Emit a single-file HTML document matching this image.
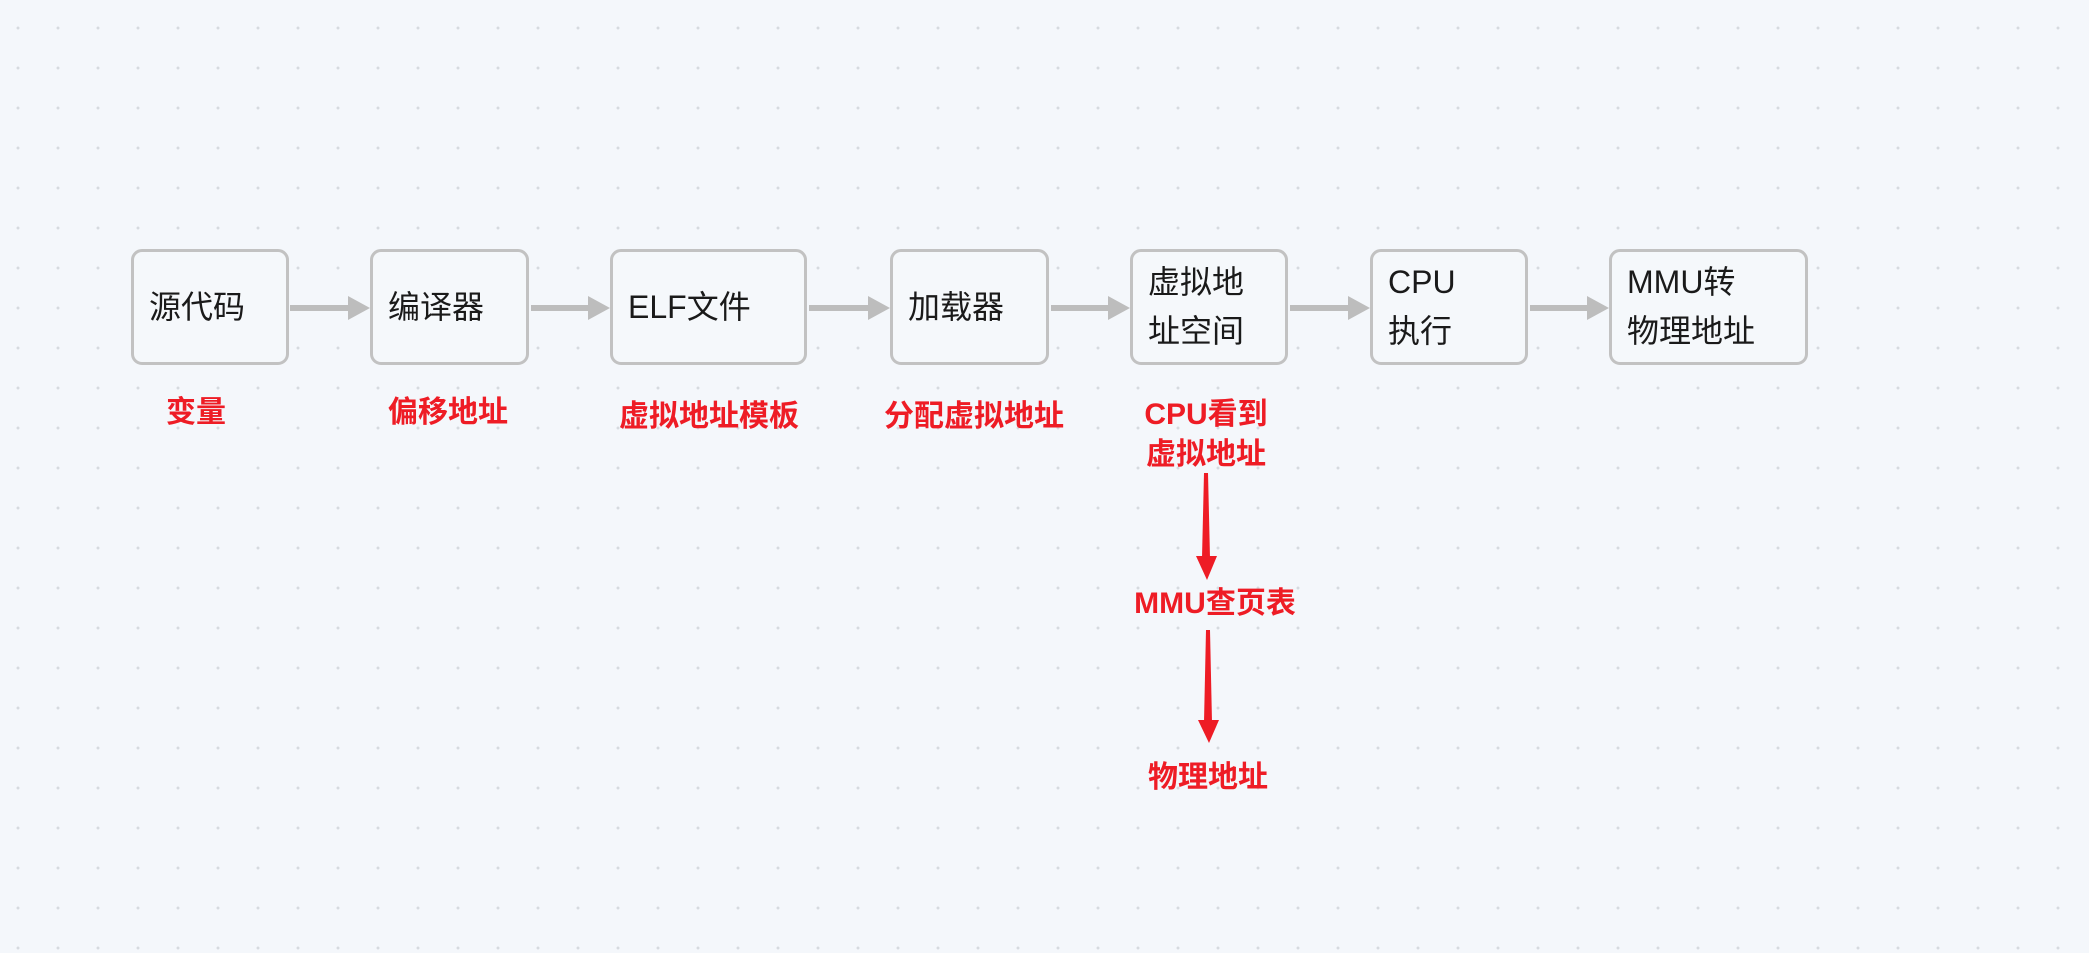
<!DOCTYPE html>
<html><head><meta charset="utf-8"><style>
html,body{margin:0;padding:0}
body{width:2089px;height:953px;overflow:hidden;position:relative;background-color:#f4f7fb;
background-image:radial-gradient(circle,#d6dadf 1.3px,transparent 1.6px);background-size:40px 40px;background-position:-2px 8px;
font-family:"Liberation Sans","Noto Sans CJK SC",sans-serif}
.b{position:absolute;top:249px;height:110px;border:3.5px solid #c2c2c2;border-radius:11px;background:#f5f8fb;box-sizing:content-box;
font-size:32px;color:#1a1a1a;display:flex;align-items:center;padding-left:15px;line-height:49px}
.r{position:absolute;color:#ee1c25;font-weight:bold;font-size:30px;text-align:center;transform:translateX(-50%);white-space:nowrap;line-height:40px}
svg{position:absolute;left:0;top:0}
</style></head><body>
<svg width="2089" height="953">
<g fill="#bdbdbd" stroke="#bdbdbd">
<line x1="290" y1="308" x2="350" y2="308" stroke-width="6"/><polygon points="348,296 370,308 348,320" stroke="none"/>
<line x1="531" y1="308" x2="590" y2="308" stroke-width="6"/><polygon points="588,296 610,308 588,320" stroke="none"/>
<line x1="809" y1="308" x2="870" y2="308" stroke-width="6"/><polygon points="868,296 890,308 868,320" stroke="none"/>
<line x1="1051" y1="308" x2="1110" y2="308" stroke-width="6"/><polygon points="1108,296 1130,308 1108,320" stroke="none"/>
<line x1="1290" y1="308" x2="1350" y2="308" stroke-width="6"/><polygon points="1348,296 1370,308 1348,320" stroke="none"/>
<line x1="1530" y1="308" x2="1589" y2="308" stroke-width="6"/><polygon points="1587,296 1609,308 1587,320" stroke="none"/>
</g>
<g fill="#ee1c25">
<polygon points="1204,473 1208,473 1210,558 1202,558"/><polygon points="1196,556 1217,556 1207,580"/>
<polygon points="1206,630 1210,630 1212,722 1204,722"/><polygon points="1198,720 1219,720 1209,743"/>
</g>
</svg>
<div class="b" style="left:131px;width:137px">源代码</div>
<div class="b" style="left:370px;width:138px">编译器</div>
<div class="b" style="left:610px;width:176px">ELF文件</div>
<div class="b" style="left:890px;width:138px">加载器</div>
<div class="b" style="left:1130px;width:137px">虚拟地<br>址空间</div>
<div class="b" style="left:1370px;width:137px">CPU<br>执行</div>
<div class="b" style="left:1609px;width:178px">MMU转<br>物理地址</div>
<div class="r" style="left:196px;top:393px">变量</div>
<div class="r" style="left:448px;top:393px">偏移地址</div>
<div class="r" style="left:709px;top:397px">虚拟地址模板</div>
<div class="r" style="left:974px;top:397px">分配虚拟地址</div>
<div class="r" style="left:1206px;top:395px">CPU看到<br>虚拟地址</div>
<div class="r" style="left:1215px;top:584px">MMU查页表</div>
<div class="r" style="left:1208px;top:758px">物理地址</div>
</body></html>
